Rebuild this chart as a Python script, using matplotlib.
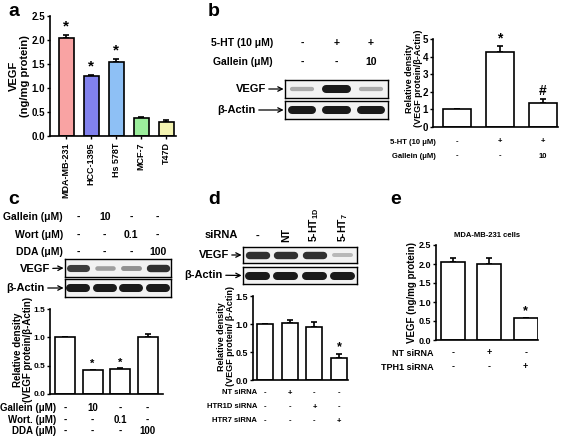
import numpy as np
import matplotlib
matplotlib.use("Agg")
import matplotlib.pyplot as plt

plt.rcParams['font.family'] = ['Liberation Sans', 'DejaVu Sans']
plt.rcParams['font.weight'] = 'bold'
plt.rcParams['mathtext.fontset'] = 'custom'
plt.rcParams['mathtext.rm'] = 'Liberation Sans:bold'
plt.rcParams['mathtext.bf'] = 'Liberation Sans:bold'
plt.rcParams['axes.linewidth'] = 1.2

W, H = 567, 438

# ---- data ----
a_lines = ['MDA-MB-231', 'HCC-1395', 'Hs 578T', 'MCF-7', 'T47D']
a_vals = [2.05, 1.24, 1.54, 0.38, 0.30]
a_err = [0.06, 0.03, 0.07, 0.01, 0.03]
a_cols = ['#f9a3a3', '#8282ee', '#8ec0f5', '#9cee9c', '#f3f3b0']

b_ht = ['-', '+', '+']
b_gal = ['-', '-', '10']
b_vals = [1.0, 4.25, 1.38]
b_err = [0.0, 0.35, 0.22]
b_marks = ['', '*', '#']
b_vegf = [0.35, 0.95, 0.35]
b_actin = [0.95, 0.95, 0.95]

c_gal = ['-', '10', '-', '-']
c_wort = ['-', '-', '0.1', '-']
c_dda = ['-', '-', '-', '100']
c_vals = [1.0, 0.42, 0.44, 1.01]
c_err = [0.0, 0.005, 0.015, 0.05]
c_marks = ['', '*', '*', '']
c_vegf = [0.8, 0.4, 0.45, 0.85]
c_actin = [0.95, 0.95, 0.95, 0.95]

d_si = ['-', 'NT', r'5-HT$_{\mathbf{1D}}$', r'5-HT$_{\mathbf{7}}$']
d_nt = ['-', '+', '-', '-']
d_1d = ['-', '-', '+', '-']
d_7 = ['-', '-', '-', '+']
d_vals = [1.0, 1.01, 0.94, 0.39]
d_err = [0.0, 0.07, 0.10, 0.07]
d_marks = ['', '', '', '*']
d_vegf = [0.85, 0.85, 0.85, 0.3]
d_actin = [0.95, 0.95, 0.95, 0.95]

e_nt = ['-', '+', '-']
e_tph = ['-', '-', '+']
e_vals = [2.05, 1.99, 0.57]
e_err = [0.10, 0.18, 0.01]
e_marks = ['', '', '*']

fig = plt.figure(figsize=(W / 100, H / 100), dpi=100)


def add_ax(x0, y0, x1, y1):
    return fig.add_axes([x0 / W, 1 - y1 / H, (x1 - x0) / W, (y1 - y0) / H])


def ftext(x, y, s, **kw):
    fig.text(x / W, 1 - y / H, s, **kw)


def bars(ax, vals, err, cols, marks, ymax, step, width, xlim, fs=6.5, mfs=9):
    x = np.arange(len(vals))
    ax.bar(x, vals, width=width, color=cols, edgecolor='black', linewidth=1.2, zorder=2)
    ax.errorbar(x, vals, yerr=[np.zeros(len(err)), err], fmt='none', ecolor='black',
                elinewidth=1.2, capsize=2.5, capthick=1.2, zorder=1)
    for i, m in enumerate(marks):
        if m:
            ax.text(i, vals[i] + err[i] + ymax * 0.01, m, ha='center', va='bottom',
                    fontsize=mfs, fontweight='bold')
    ax.set_ylim(0, ymax)
    ax.set_xlim(*xlim)
    ax.set_yticks(np.arange(0, ymax + 1e-6, step))
    ax.set_yticklabels(['%g' % v if step >= 1 else '%.1f' % v
                        for v in np.arange(0, ymax + 1e-6, step)], fontsize=fs, fontweight='bold')
    ax.tick_params(axis='y', length=2.5, width=1.0, pad=1)
    ax.set_xticks([])
    for s in ['top', 'right']:
        ax.spines[s].set_visible(False)
    return x


def blot(ax, levels):
    ax.set_facecolor('#f2f2f2')
    for i, v in enumerate(levels):
        g = str(round(1 - 0.95 * v, 2))
        ax.plot([i - 0.3, i + 0.3], [0.5, 0.5], color=g, lw=1.5 + 4.5 * v,
                solid_capstyle='round')
    ax.set_xlim(-0.5, len(levels) - 0.5)
    ax.set_ylim(0, 1)
    ax.set_xticks([])
    ax.set_yticks([])
    for s in ax.spines.values():
        s.set_linewidth(1.0)


def blot_label(ax, s, x, y, fs=8):
    ax.annotate(s, xy=(0, 0.5), xycoords='axes fraction', xytext=(x / W, 1 - y / H),
                textcoords='figure fraction', ha='right', va='center', fontsize=fs,
                fontweight='bold', arrowprops=dict(arrowstyle='->', lw=0.9, color='black',
                                                   shrinkA=0, shrinkB=1))


def row_labels(ax, name, vals, y, xname, fs, nfs=None):
    tr = matplotlib.transforms.blended_transform_factory(ax.transData, fig.transFigure)
    ftext(xname, y, name, ha='right', va='center', fontsize=nfs or fs, fontweight='bold')
    for i, v in enumerate(vals):
        ax.text(i, 1 - y / H, v, transform=tr, ha='center', va='center', fontsize=fs,
                fontweight='bold')


# ---- panel letters ----
for s, x, y in [('a', 8, 12), ('b', 208, 12), ('c', 8, 200), ('d', 208, 200), ('e', 390, 200)]:
    ftext(x, y, s, fontsize=14, fontweight='bold', va='center', ha='left')

# ---- a ----
ax = add_ax(50, 16, 176, 136)
bars(ax, a_vals, a_err, a_cols, ['*', '*', '*', '', ''], 2.5, 0.5, 0.6, (-0.65, 4.4), fs=7, mfs=11)
ax.set_xticks(range(len(a_lines)))
ax.set_xticklabels(a_lines, rotation=90, fontsize=6.5, fontweight='bold')
ax.tick_params(axis='x', length=2.5, width=1.0, pad=2)
ax.set_ylabel('VEGF\n(ng/mg protein)', fontsize=8, fontweight='bold', linespacing=1.15)
ax.yaxis.set_label_coords(-0.155, 0.5)

# ---- b ----
bb1 = add_ax(285, 80, 388, 98)
blot(bb1, b_vegf)
bb2 = add_ax(285, 101, 388, 119)
blot(bb2, b_actin)
blot_label(bb1, 'VEGF', 266, 89)
blot_label(bb2, 'β-Actin', 256, 110)
row_labels(bb1, '5-HT (10 μM)', b_ht, 43, 273, 7.5)
row_labels(bb1, 'Gallein (μM)', b_gal, 62, 273, 7.5)

ax = add_ax(433, 39, 558, 127)
bars(ax, b_vals, b_err, 'white', b_marks, 5, 1, 0.65, (-0.55, 2.35), fs=7, mfs=10)
ax.set_ylabel('Relative density\n(VEGF protein/β-Actin)', fontsize=6.5, fontweight='bold',
              linespacing=1.0)
ax.yaxis.set_label_coords(-0.08, 0.55)
row_labels(ax, '5-HT (10 μM)', b_ht, 142, 436, 5.5)
row_labels(ax, 'Gallein (μM)', b_gal, 156, 436, 5.5)

# ---- c ----
cb1 = add_ax(65, 259, 171, 277)
blot(cb1, c_vegf)
cb2 = add_ax(65, 279, 171, 297)
blot(cb2, c_actin)
blot_label(cb1, 'VEGF', 50, 269)
blot_label(cb2, 'β-Actin', 45, 288)
row_labels(cb1, 'Gallein (μM)', c_gal, 217, 63, 7.5)
row_labels(cb1, 'Wort (μM)', c_wort, 235, 63, 7.5)
row_labels(cb1, 'DDA (μM)', c_dda, 252, 63, 7.5)

ax = add_ax(50, 309, 163, 394)
bars(ax, c_vals, c_err, 'white', c_marks, 1.5, 0.5, 0.72, (-0.55, 3.56), fs=6, mfs=8)
ax.set_ylabel('Relative density\n(VEGF protein/β-Actin)', fontsize=7, fontweight='bold',
              linespacing=1.0)
ax.yaxis.set_label_coords(-0.15, 0.52)
row_labels(ax, 'Gallein (μM)', c_gal, 408, 56, 7)
row_labels(ax, 'Wort. (μM)', c_wort, 420, 56, 7)
row_labels(ax, 'DDA (μM)', c_dda, 431, 56, 7)

# ---- d ----
db1 = add_ax(243, 247, 357, 263)
blot(db1, d_vegf)
db2 = add_ax(243, 267, 357, 284)
blot(db2, d_actin)
blot_label(db1, 'VEGF', 229, 255)
blot_label(db2, 'β-Actin', 223, 275)
tr = matplotlib.transforms.blended_transform_factory(db1.transData, fig.transFigure)
ftext(205, 235, 'siRNA', ha='left', va='center', fontsize=8, fontweight='bold')
for i, s in enumerate(d_si):
    if i == 0:
        db1.text(i, 1 - 236 / H, s, transform=tr, ha='center', va='center', fontsize=8,
                 fontweight='bold')
    else:
        db1.text(i, 1 - 242 / H, s, transform=tr, ha='center', va='bottom', rotation=90,
                 fontsize=7.5, fontweight='bold')

ax = add_ax(253, 296, 348, 380)
bars(ax, d_vals, d_err, 'white', d_marks, 1.5, 0.5, 0.65, (-0.49, 3.36), fs=6.5, mfs=9)
ax.set_ylabel('Relative density\n(VEGF protein/ β-Actin)', fontsize=6.5, fontweight='bold',
              linespacing=1.0)
ax.yaxis.set_label_coords(-0.19, 0.52)
row_labels(ax, 'NT siRNA', d_nt, 393, 257, 5.5)
row_labels(ax, 'HTR1D siRNA', d_1d, 407, 257, 5.5)
row_labels(ax, 'HTR7 siRNA', d_7, 421, 257, 5.5)

# ---- e ----
ax = add_ax(436, 245, 538, 340)
bars(ax, e_vals, e_err, 'white', e_marks, 2.5, 0.5, 0.66, (-0.47, 2.34), fs=6.5, mfs=9)
ax.set_ylabel('VEGF (ng/mg protein)', fontsize=7, fontweight='bold')
ax.yaxis.set_label_coords(-0.19, 0.5)
ax.set_title('MDA-MB-231 cells', fontsize=5.5, fontweight='bold', pad=6)
row_labels(ax, 'NT siRNA', e_nt, 353, 434, 6.5)
row_labels(ax, 'TPH1 siRNA', e_tph, 367, 434, 6.5)

fig.savefig('out.png', dpi=100)
